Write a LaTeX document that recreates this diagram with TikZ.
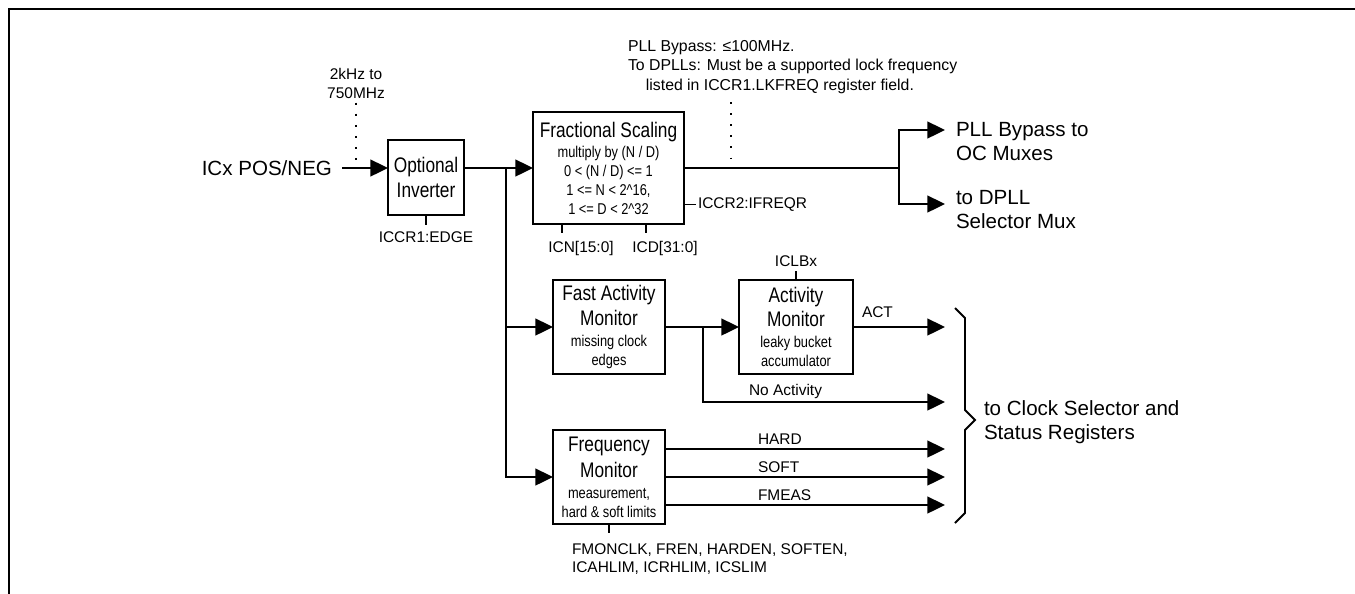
\documentclass[tikz,border=0pt]{standalone}
\usepackage{fontspec}
\setmainfont{Liberation Sans}
\newfontfamily\narrowfont[FakeStretch=0.82]{Liberation Sans}
\usetikzlibrary{arrows.meta}

\newcommand{\bigtext}{\fontsize{11.7}{13.8}\selectfont}
\newcommand{\smalltext}{\fontsize{8.8}{11.1}\selectfont}
\newcommand{\blocktitle}{\narrowfont\fontsize{12}{14}\selectfont}
\newcommand{\blocknote}{\narrowfont\fontsize{8.9}{10.8}\selectfont\lineskiplimit=-20pt}

\begin{document}
\begin{tikzpicture}[x=0.02cm,y=-0.02cm,inner sep=0pt,outer sep=0pt,line width=1.1pt,
>={Triangle[length=10pt,width=9.5pt]},
sysblock/.style={draw,rectangle,align=center,font=\blocknote,line width=1.1pt},
lbl/.style={font=\smalltext,inner sep=0pt},
big/.style={font=\bigtext,inner sep=0pt,align=left},
dotpin/.style={line width=1pt,dash pattern=on 1.1pt off 5.2pt}]

\useasboundingbox (0,0) rectangle (1355,593);
\draw[line width=1.5pt] (9,600) -- (9,9) -- (1360,9);

% blocks
\draw (426,177.5) node[sysblock,minimum width=1.52cm,minimum height=1.5cm] (inv) {\blocktitle Optional\\[3.8pt]\blocktitle Inverter};
\draw (608.5,168) node[sysblock,minimum width=3.02cm,minimum height=2.24cm] (frac) {\blocktitle Fractional Scaling\\[0.6pt]multiply by (N / D)\\0 < (N / D) <= 1\\1 <= N < 2\textasciicircum16,\\1 <= D < 2\textasciicircum32};
\draw (609,327) node[sysblock,minimum width=2.24cm,minimum height=1.88cm] (fam) {\blocktitle Fast Activity\\[2.9pt]\blocktitle Monitor\\[1.2pt]missing clock\\edges};
\draw (796,327) node[sysblock,minimum width=2.28cm,minimum height=1.88cm] (act) {\blocktitle Activity\\[2.9pt]\blocktitle Monitor\\[1.2pt]leaky bucket\\accumulator};
\draw (609,477) node[sysblock,minimum width=2.24cm,minimum height=1.88cm] (fmon) {\blocktitle Frequency\\[3.9pt]\blocktitle Monitor\\[1.2pt]measurement,\\hard \& soft limits};

% input side
\draw (342,168) node[big,anchor=east,inner xsep=5.7pt] (icx) {ICx POS/NEG};
\draw (356,83.7) node[lbl,align=center] (range) {2kHz to\\750MHz};
\coordinate (rangepin) at (356,162);
\draw[dotpin,shorten <=2pt] (range.south) -- (rangepin);

\draw[->] (icx.east) -- (icx.east -| inv.west);
\draw[->] (inv.east |- frac.west) -- (frac.west);
\coordinate (split) at (506,168);
\draw[->] (split) |- (fam.west);
\draw[->] (split) |- (fmon.west);

% register fields
\draw (426,237.5) node[lbl] (edge) {ICCR1:EDGE};
\coordinate (edgepin) at (426,225);
\draw (inv.south) -- (edgepin);
\draw (581,248.5) node[lbl] (icn) {ICN[15:0]};
\draw (665,248.5) node[lbl] (icd) {ICD[31:0]};
\coordinate (icnpin) at (562,233);
\coordinate (icdpin) at (646,233);
\draw (icnpin |- frac.south) -- (icnpin);
\draw (icdpin |- frac.south) -- (icdpin);
\draw (698,204.5) node[lbl,anchor=west] (ifreqr) {ICCR2:IFREQR};
\draw (frac.east |- ifreqr) -- ([xshift=-1.1pt]ifreqr.west);
\draw (796,261) node[lbl] (iclb) {ICLBx};
\coordinate (iclbpin) at (796,271);
\draw (act.north) -- (iclbpin);
\draw (572,558.8) node[lbl,anchor=west,align=left,font=\fontsize{8.8}{10.1}\selectfont] (fmonregs) {FMONCLK, FREN, HARDEN, SOFTEN,\\ICAHLIM, ICRHLIM, ICSLIM};
\coordinate (fmonpin) at (609,533);
\draw (fmon.south) -- (fmonpin);

% fractional scaling output
\draw (628,66.7) node[lbl,anchor=west,align=left,font=\fontsize{9}{11.1}\selectfont] (limits) {PLL Bypass: ≤100MHz.\\To DPLLs: Must be a supported lock frequency\\\hspace*{10.2pt}listed in ICCR1.LKFREQ register field.};
\coordinate (limpin) at (731,162);
\draw[dotpin,shorten <=5pt] (limpin |- limits.south) -- (limpin);
\coordinate (bypass) at (899,168);
\coordinate (pllpin) at (945,130);
\coordinate (dpllpin) at (945,204);
\draw (frac.east) -- (bypass);
\draw[->] (bypass) |- (pllpin);
\draw[->] (bypass) |- (dpllpin);
\draw (956,141.2) node[big,anchor=west] (pllout) {PLL Bypass to\\OC Muxes};
\draw (956,209.3) node[big,anchor=west] (dpllout) {to DPLL\\Selector Mux};

% monitor outputs
\coordinate (actpin) at (945,327);
\coordinate (noactsplit) at (703,327);
\coordinate (noactpin) at (945,402);
\draw[->] (fam.east) -- (act.west);
\draw[->] (act.east) -- (actpin);
\draw[->] (noactsplit) |- (noactpin);
\draw (862,312.5) node[lbl,anchor=west] (actlbl) {ACT};
\draw (749,391.5) node[lbl,anchor=west] (noactlbl) {No Activity};

\coordinate (hardpin) at (945,449);
\coordinate (softpin) at (945,477);
\coordinate (fmeaspin) at (945,505);
\draw[->] (fmon.east |- hardpin) -- (hardpin);
\draw[->] (fmon.east |- softpin) -- (softpin);
\draw[->] (fmon.east |- fmeaspin) -- (fmeaspin);
\draw (758,438.7) node[lbl,anchor=west] (hardlbl) {HARD};
\draw (758,466.7) node[lbl,anchor=west] (softlbl) {SOFT};
\draw (758,494.7) node[lbl,anchor=west] (fmeaslbl) {FMEAS};

% brace to status registers
\draw (955,308) -- (965,318) -- (965,410) -- (975,420) -- (965,430) -- (965,513) -- (955,523);
\draw (984,421.8) node[big,anchor=west] (status) {to Clock Selector and\\Status Registers};
\end{tikzpicture}
\end{document}
